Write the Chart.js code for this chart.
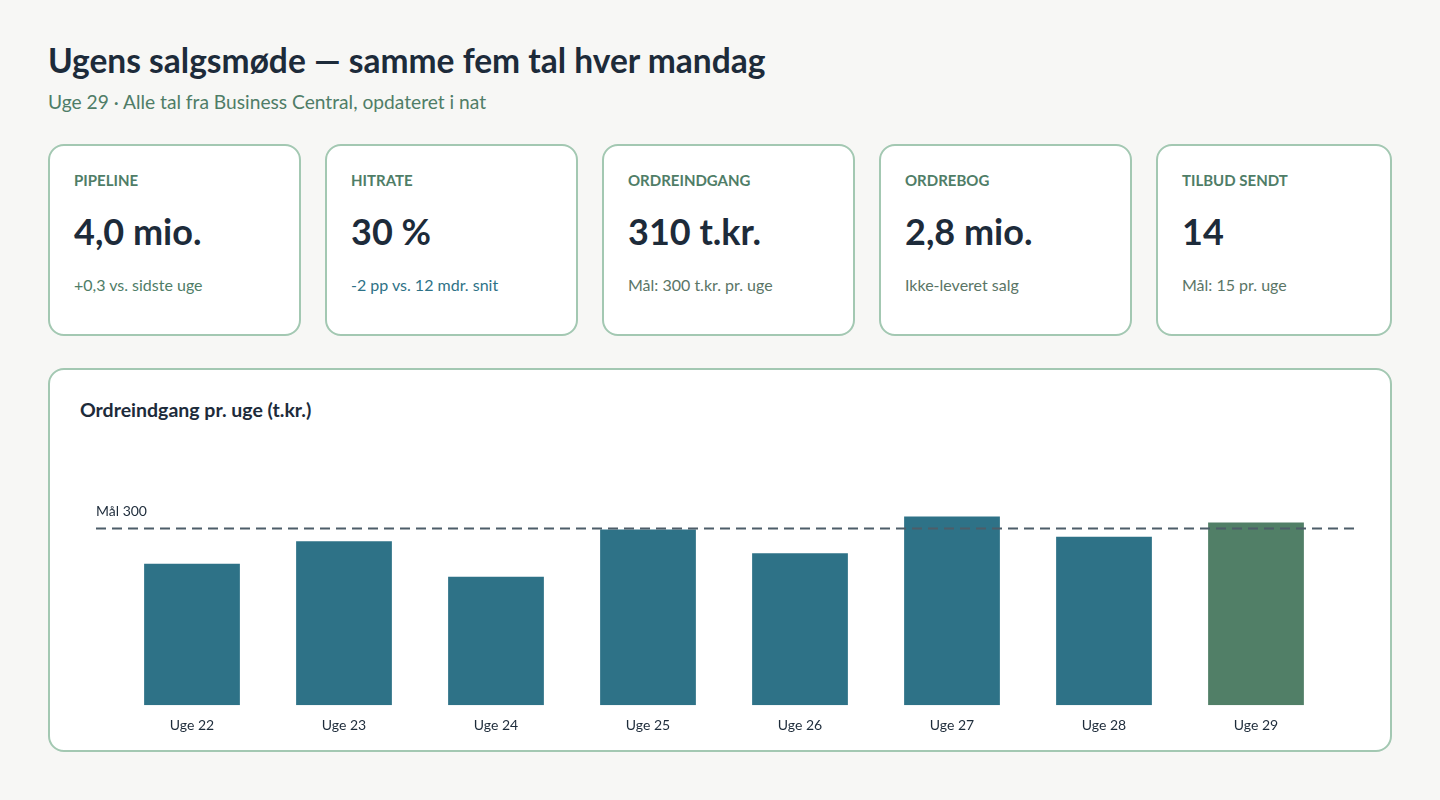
<!DOCTYPE html>
<html lang="da">
<head>
<meta charset="utf-8">
<title>Ugens salgsmøde</title>
<script src="https://cdn.jsdelivr.net/npm/chart.js@4.4.1/dist/chart.umd.min.js"></script>
<style>
  * { box-sizing: border-box; margin: 0; padding: 0; }
  body {
    width: 1440px; height: 800px; overflow: hidden;
    background: #f7f7f5;
    font-family: Lato, "Noto Sans", sans-serif;
    color: #1d2b3a;
  }
  .page { position: absolute; left: 48px; top: 0; width: 1344px; }
  h1 { position: absolute; top: 40px; left: 0; font-size: 33.5px; font-weight: 700; line-height: 40px; white-space: nowrap; }
  .sub { position: absolute; top: 90px; left: 0; font-size: 19.2px; line-height: 24px; color: #4f7d67; white-space: nowrap; }
  .kpis {
    position: absolute; top: 144px; left: 0; width: 1344px;
    display: grid; grid-template-columns: 253px 253px 253px 253px 1fr; gap: 24px;
  }
  .card {
    height: 192px; background: #fff;
    border: 2px solid #a3c8b2; border-radius: 16px;
    padding: 25px 24px 0 24px;
  }
  .card .lbl { font-size: 15px; font-weight: 700; line-height: 18px; color: #4f7d67; text-transform: uppercase; }
  .card .val { margin-top: 22px; font-size: 36px; font-weight: 700; line-height: 40px; color: #1d2b3a; }
  .card .note { margin-top: 25px; font-size: 16px; line-height: 18px; color: #5a7566; }
  .card .note.up { color: #4f7d67; }
  .card .note.down { color: #2e7287; }
  .panel {
    position: absolute; top: 368px; left: 0; width: 1344px; height: 384px;
    background: #fff; border: 2px solid #a3c8b2; border-radius: 16px;
  }
  .panel h2 { position: absolute; top: 28px; left: 30px; font-size: 19.5px; font-weight: 700; line-height: 24px; white-space: nowrap; }
  .chart-box { position: absolute; left: 46px; top: 70px; width: 1258px; height: 306px; }
</style>
</head>
<body>
<div class="page">
  <h1>Ugens salgsmøde — samme fem tal hver mandag</h1>
  <div class="sub">Uge 29 · Alle tal fra Business Central, opdateret i nat</div>

  <div class="kpis" id="kpis"></div>

  <div class="panel">
    <h2>Ordreindgang pr. uge (t.kr.)</h2>
    <div class="chart-box"><canvas id="chart-weekly"></canvas></div>
  </div>
</div>

<script>
// ── Data ─────────────────────────────────────────────────────────────────────
const kpiLabels = ['Pipeline', 'Hitrate', 'Ordreindgang', 'Ordrebog', 'Tilbud sendt'];
const kpiValues = ['4,0 mio.', '30 %', '310 t.kr.', '2,8 mio.', '14'];
const kpiNotes  = ['+0,3 vs. sidste uge', '-2 pp vs. 12 mdr. snit', 'Mål: 300 t.kr. pr. uge', 'Ikke-leveret salg', 'Mål: 15 pr. uge'];
const kpiTone   = ['up', 'down', '', '', ''];

const weeks  = ['Uge 22', 'Uge 23', 'Uge 24', 'Uge 25', 'Uge 26', 'Uge 27', 'Uge 28', 'Uge 29'];
const orders = [240, 278, 218, 298, 258, 320, 286, 310];
const goal = 300;
const goalLabel = 'Mål 300';

const TEAL = '#2e7287';
const GREEN = '#517f67';

// ── KPI cards ────────────────────────────────────────────────────────────────
document.getElementById('kpis').innerHTML = kpiLabels.map((l, i) => `
  <div class="card">
    <div class="lbl">${l}</div>
    <div class="val">${kpiValues[i]}</div>
    <div class="note ${kpiTone[i]}">${kpiNotes[i]}</div>
  </div>`).join('');

// ── Goal line plugin ─────────────────────────────────────────────────────────
const goalLine = {
  id: 'goalLine',
  afterDatasetsDraw(chart) {
    const { ctx, scales: { y }, width } = chart;
    const yPix = Math.round(y.getPixelForValue(goal)) + 0.5;
    ctx.save();
    ctx.strokeStyle = '#4d5d69';
    ctx.lineWidth = 2;
    ctx.setLineDash([10, 6]);
    ctx.beginPath();
    ctx.moveTo(0, yPix);
    ctx.lineTo(width, yPix);
    ctx.stroke();
    ctx.setLineDash([]);
    ctx.fillStyle = '#1d2b3a';
    ctx.font = '14px Lato';
    ctx.textBaseline = 'middle';
    ctx.fillText(goalLabel, 0, yPix - 17);
    ctx.restore();
  }
};

// ── Weekly bar chart ─────────────────────────────────────────────────────────
new Chart(document.getElementById('chart-weekly'), {
  type: 'bar',
  data: {
    labels: weeks,
    datasets: [{
      label: 'Ordreindgang (t.kr.)',
      data: orders,
      backgroundColor: orders.map((_, i) => i === orders.length - 1 ? GREEN : TEAL),
      barPercentage: 0.63,
      categoryPercentage: 1,
    }]
  },
  options: {
    maintainAspectRatio: false,
    animation: false,
    layout: { padding: { left: 20, right: 22, top: 0, bottom: 0 } },
    plugins: { legend: { display: false }, tooltip: { enabled: false } },
    scales: {
      y: { display: false, min: 0, max: 450 },
      x: {
        grid: { display: false, drawTicks: false },
        border: { display: false },
        ticks: { color: '#1d2b3a', font: { family: 'Lato', size: 14 }, padding: 12 },
      }
    }
  },
  plugins: [goalLine]
});
</script>
</body>
</html>
